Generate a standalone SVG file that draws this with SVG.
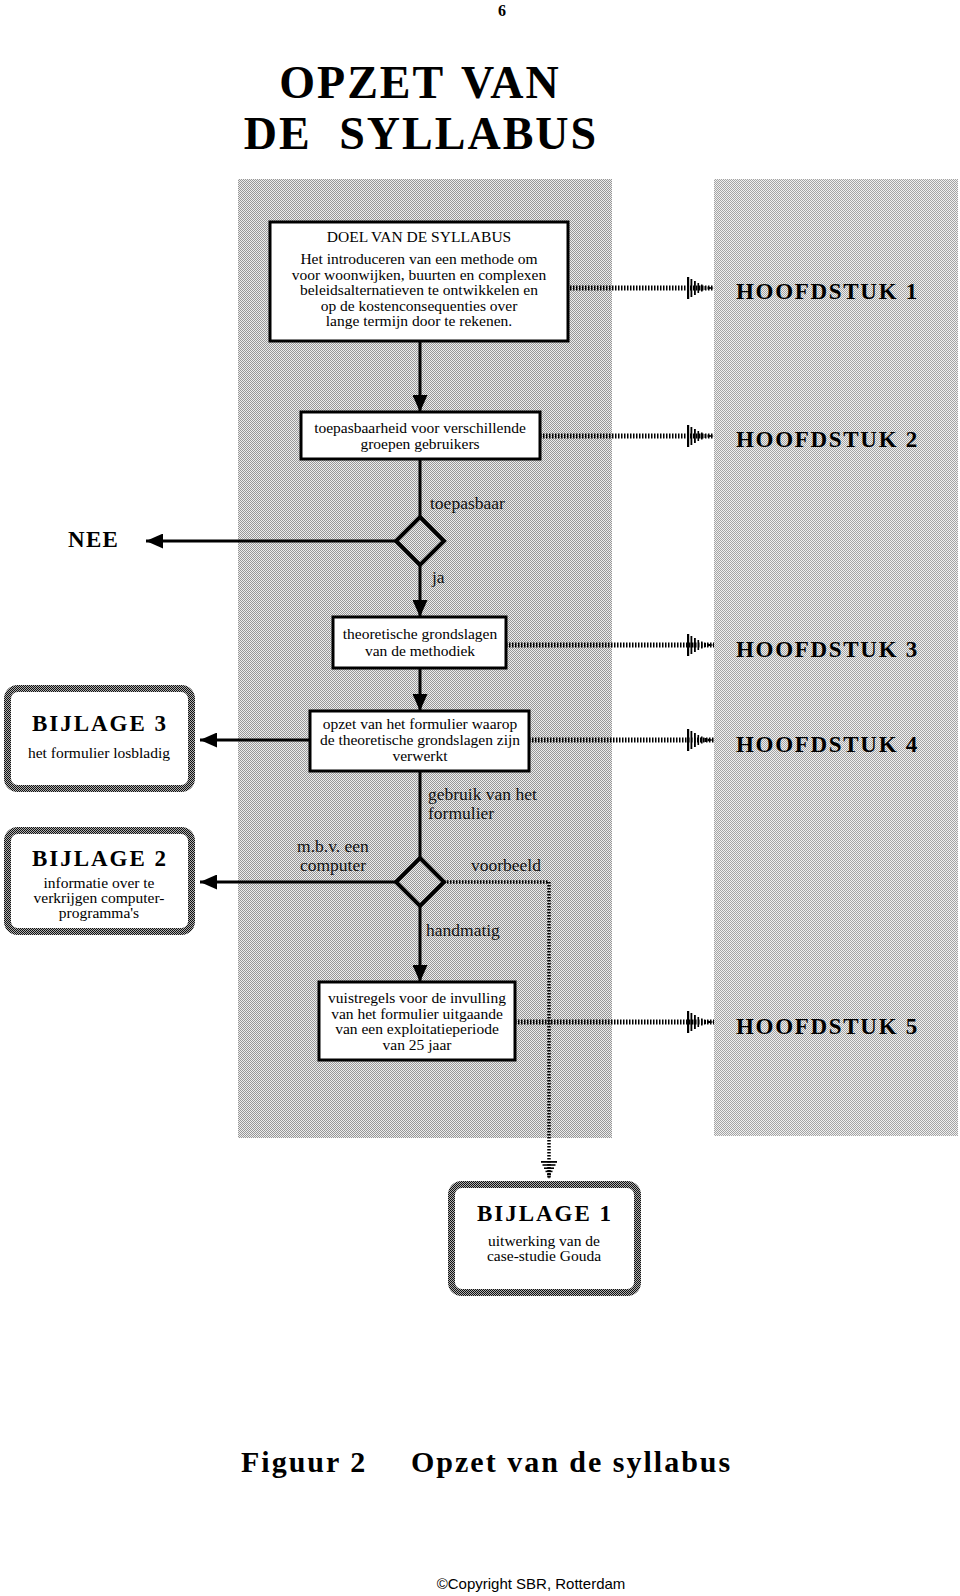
<svg xmlns="http://www.w3.org/2000/svg" width="960" height="1596" viewBox="0 0 960 1596">
<style>
.t{font-family:"Liberation Serif","Times New Roman",serif;fill:#000}
.b{font-weight:bold}
.box{font-size:15.5px;text-anchor:middle}
.lbl{font-size:17.5px;fill:#111}
.hs{font-size:23px;font-weight:bold;letter-spacing:1.7px}
.bj{font-size:23px;font-weight:bold;letter-spacing:2px;text-anchor:middle}
.node{fill:#fff;stroke:#000;stroke-width:3}
.dia{fill:none;stroke:#000;stroke-width:4}
.flow{fill:none;stroke:#000;stroke-width:3}
.hatch{fill:none;stroke:#000;stroke-width:5;stroke-dasharray:1.5 1.5}
.dot{fill:none;stroke:#000;stroke-width:3.5;stroke-dasharray:1.5 1.5}
.app{fill:#fff;stroke:url(#darkdither);stroke-width:7}
</style>
<defs>
<pattern id="dither" width="2" height="2" patternUnits="userSpaceOnUse">
<rect width="2" height="2" fill="#ececec"/>
<rect width="1" height="1" fill="#979797"/>
<rect x="1" y="1" width="1" height="1" fill="#979797"/>
</pattern>
<pattern id="dither2" width="2" height="2" patternUnits="userSpaceOnUse">
<rect width="2" height="2" fill="#f0f0f0"/>
<rect width="1" height="1" fill="#a4a4a4"/>
<rect x="1" y="1" width="1" height="1" fill="#a4a4a4"/>
</pattern>
<pattern id="darkdither" width="2" height="2" patternUnits="userSpaceOnUse">
<rect width="2" height="2" fill="#b0b0b0"/>
<rect width="1" height="1" fill="#111"/>
<rect x="1" y="1" width="1" height="1" fill="#111"/>
</pattern>
<marker id="arr" markerUnits="userSpaceOnUse" viewBox="0 0 17 15" refX="17" refY="7.5" markerWidth="17" markerHeight="15" orient="auto">
<path d="M0,0 L17,7.5 L0,15 Z" fill="#000"/>
</marker>
<marker id="hatchhead" markerUnits="userSpaceOnUse" viewBox="0 -12 27 24" refX="27" refY="0" markerWidth="27" markerHeight="24" orient="auto">
<rect x="0" y="-11" width="2.2" height="22" fill="#000"/>
<rect x="3.5" y="-9" width="1.8" height="18" fill="#000"/>
<rect x="7" y="-7" width="1.8" height="14" fill="#000"/>
<rect x="10.5" y="-5" width="1.6" height="10" fill="#000"/>
<rect x="14" y="-3.5" width="1.6" height="7" fill="#000"/>
<rect x="17.5" y="-2" width="1.5" height="4" fill="#000"/>
<path d="M20.5,-1.5 L27,0 L20.5,1.5 Z" fill="#000"/>
</marker>
<marker id="hatchhead2" markerUnits="userSpaceOnUse" viewBox="0 -9 18 18" refX="18" refY="0" markerWidth="18" markerHeight="18" orient="auto">
<rect x="0" y="-8" width="1.8" height="16" fill="#000"/>
<rect x="3.2" y="-6.5" width="1.6" height="13" fill="#000"/>
<rect x="6.4" y="-5" width="1.6" height="10" fill="#000"/>
<rect x="9.6" y="-3.5" width="1.6" height="7" fill="#000"/>
<rect x="12.8" y="-2" width="1.6" height="4" fill="#000"/>
<path d="M15,-1 L18,0 L15,1 Z" fill="#000"/>
</marker>
</defs>

<rect width="960" height="1596" fill="#fff"/>

<g id="page-header">
<text class="t b" x="502" y="16" font-size="16" text-anchor="middle">6</text>
<text class="t b" x="420" y="98" font-size="46" letter-spacing="2" word-spacing="4" text-anchor="middle">OPZET VAN</text>
<text class="t b" x="421" y="149" font-size="46" letter-spacing="2" word-spacing="14" text-anchor="middle">DE SYLLABUS</text>
</g>

<g id="panels">
<rect x="238" y="179" width="374" height="959" fill="url(#dither)"/>
<rect x="714" y="179" width="244" height="957" fill="url(#dither2)"/>
</g>

<g id="connectors">
<path class="flow" d="M420,341 V412" marker-end="url(#arr)"/>
<path class="flow" d="M420,459 V517"/>
<path class="flow" d="M420,565 V617" marker-end="url(#arr)"/>
<path class="flow" d="M420,668 V711" marker-end="url(#arr)"/>
<path class="flow" d="M420,771 V858"/>
<path class="flow" d="M420,906 V982" marker-end="url(#arr)"/>
<path class="flow" d="M396,541 H146" marker-end="url(#arr)"/>
<path class="flow" d="M310,740 H200" marker-end="url(#arr)"/>
<path class="flow" d="M396,882 H200" marker-end="url(#arr)"/>
<path class="hatch" d="M570,288 H714" marker-end="url(#hatchhead)"/>
<path class="hatch" d="M540,436 H714" marker-end="url(#hatchhead)"/>
<path class="hatch" d="M506,645 H714" marker-end="url(#hatchhead)"/>
<path class="hatch" d="M529,740 H714" marker-end="url(#hatchhead)"/>
<path class="hatch" d="M515,1022 H714" marker-end="url(#hatchhead)"/>
<path class="dot" d="M444,882 H549 V1179" marker-end="url(#hatchhead2)"/>
</g>

<g id="doel">
<rect class="node" x="270" y="222" width="298" height="119"/>
<text class="t box" x="419" y="242">DOEL VAN DE SYLLABUS</text>
<text class="t box" x="419" y="264" font-size="15.8">Het introduceren van een methode om</text>
<text class="t box" x="419" y="279.5" font-size="15.8">voor woonwijken, buurten en complexen</text>
<text class="t box" x="419" y="295" font-size="15.8">beleidsalternatieven te ontwikkelen en</text>
<text class="t box" x="419" y="310.5" font-size="15.8">op de kostenconsequenties over</text>
<text class="t box" x="419" y="326" font-size="15.8">lange termijn door te rekenen.</text>
</g>

<g id="toepasbaarheid">
<rect class="node" x="301" y="412" width="239" height="47"/>
<text class="t box" x="420" y="433">toepasbaarheid voor verschillende</text>
<text class="t box" x="420" y="449">groepen gebruikers</text>
</g>

<g id="beslissing-toepasbaar">
<path class="dia" d="M420,517 L444,541 L420,565 L396,541 Z"/>
<text class="t lbl" x="430" y="509">toepasbaar</text>
<text class="t lbl" x="432" y="583">ja</text>
</g>

<g id="nee">
<text class="t b" x="68" y="547" font-size="23" letter-spacing="1.3">NEE</text>
</g>

<g id="theoretische">
<rect class="node" x="333" y="617" width="173" height="51"/>
<text class="t box" x="420" y="639">theoretische grondslagen</text>
<text class="t box" x="420" y="656">van de methodiek</text>
</g>

<g id="opzet-formulier">
<rect class="node" x="310" y="711" width="219" height="60"/>
<text class="t box" x="420" y="729">opzet van het formulier waarop</text>
<text class="t box" x="420" y="745">de theoretische grondslagen zijn</text>
<text class="t box" x="420" y="761">verwerkt</text>
</g>

<g id="beslissing-gebruik">
<text class="t lbl" x="428" y="800">gebruik van het</text>
<text class="t lbl" x="428" y="819">formulier</text>
<path class="dia" d="M420,858 L444,882 L420,906 L396,882 Z"/>
<text class="t lbl" x="333" y="852" text-anchor="middle">m.b.v. een</text>
<text class="t lbl" x="333" y="871" text-anchor="middle">computer</text>
<text class="t lbl" x="471" y="871">voorbeeld</text>
<text class="t lbl" x="426" y="936">handmatig</text>
</g>

<g id="vuistregels">
<rect class="node" x="319" y="982" width="196" height="78"/>
<text class="t box" x="417" y="1003">vuistregels voor de invulling</text>
<text class="t box" x="417" y="1018.5">van het formulier uitgaande</text>
<text class="t box" x="417" y="1034">van een exploitatieperiode</text>
<text class="t box" x="417" y="1049.5">van 25 jaar</text>
</g>

<g id="hoofdstuk-1"><text class="t hs" x="736" y="299">HOOFDSTUK 1</text></g>
<g id="hoofdstuk-2"><text class="t hs" x="736" y="447">HOOFDSTUK 2</text></g>
<g id="hoofdstuk-3"><text class="t hs" x="736" y="657">HOOFDSTUK 3</text></g>
<g id="hoofdstuk-4"><text class="t hs" x="736" y="752">HOOFDSTUK 4</text></g>
<g id="hoofdstuk-5"><text class="t hs" x="736" y="1034">HOOFDSTUK 5</text></g>

<g id="bijlage-3">
<rect class="app" x="7.5" y="688.5" width="184" height="100" rx="10"/>
<text class="t bj" x="100" y="731">BIJLAGE 3</text>
<text class="t box" x="99" y="758" font-size="16">het formulier losbladig</text>
</g>

<g id="bijlage-2">
<rect class="app" x="7.5" y="830.5" width="184" height="101" rx="10"/>
<text class="t bj" x="100" y="866">BIJLAGE 2</text>
<text class="t box" x="99" y="888">informatie over te</text>
<text class="t box" x="99" y="903">verkrijgen computer-</text>
<text class="t box" x="99" y="918">programma's</text>
</g>

<g id="bijlage-1">
<rect class="app" x="451.5" y="1184.5" width="186" height="108" rx="10"/>
<text class="t bj" x="545" y="1221">BIJLAGE 1</text>
<text class="t box" x="544" y="1246">uitwerking van de</text>
<text class="t box" x="544" y="1261">case-studie Gouda</text>
</g>

<g id="caption">
<text class="t b" x="241" y="1472" font-size="30" letter-spacing="2">Figuur 2</text>
<text class="t b" x="411" y="1472" font-size="30" letter-spacing="2">Opzet van de syllabus</text>
<text x="531" y="1589" font-family="Liberation Sans, Arial, sans-serif" font-size="15" text-anchor="middle">©Copyright SBR, Rotterdam</text>
</g>
</svg>
